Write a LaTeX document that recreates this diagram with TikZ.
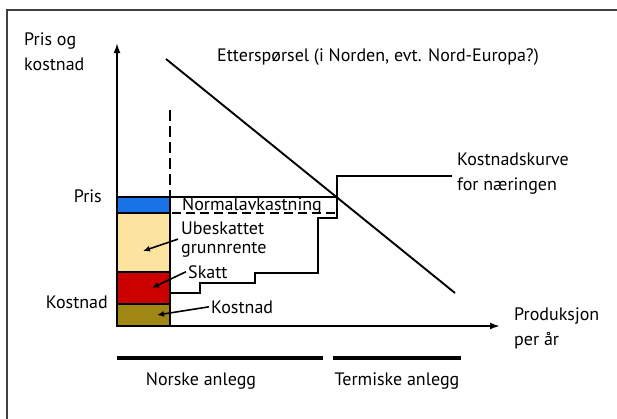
\documentclass[tikz,border=0pt]{standalone}
\usepackage{fontspec}
\setmainfont{PT Sans}
\usetikzlibrary{arrows.meta}
\definecolor{prisblaa}{RGB}{25,115,230}
\definecolor{rentegul}{RGB}{252,228,160}
\definecolor{skattrod}{RGB}{205,0,0}
\definecolor{kostoliven}{RGB}{160,135,20}
\tikzset{
  akse/.style={line width=2pt,-{Latex[length=10pt,width=7pt]}},
  kurve/.style={line width=1.9pt},
  blokk/.style={draw,line width=1.9pt},
  tekst/.style={inner sep=0pt,font=\fontsize{18}{21}\selectfont},
  pil/.style={line width=1.6pt,-{Latex[length=7pt,width=6pt]}},
}
\begin{document}
\begin{tikzpicture}[x=1pt,y=-1pt]
\useasboundingbox (0,0) rectangle (617,418);
\draw[line width=1.5pt,black!75] (7,430) -- (7,10) -- (630,10);
% blokkene
\filldraw[blokk,fill=kostoliven] (117,304) rectangle (170,326);
\filldraw[blokk,fill=skattrod] (117,272) rectangle (170,304);
\filldraw[blokk,fill=rentegul] (117,213) rectangle (170,272);
\filldraw[blokk,fill=prisblaa] (117,197) rectangle (170,213);
% akser
\draw[akse] (117,327) -- (117,43);
\draw[akse] (116,326) -- (500,326);
% pris og normalavkastning
\draw[kurve,dash pattern=on 11pt off 5pt] (170,110) -- (170,197);
\draw[kurve] (170,197) -- (337,197);
\draw[kurve,dash pattern=on 9pt off 5pt] (172,213) -- (337,213);
% kostnadskurve
\draw[kurve] (170,293) -- (200,293) -- (200,283) -- (255,283) -- (255,273)
  -- (318,273) -- (318,218) -- (337,218) -- (337,176) -- (452,176);
% etterspoersel
\draw[kurve] (166,59) -- (455,293);
% anlegg
\draw[line width=4pt] (117,358) -- (323,358);
\draw[line width=4pt] (333,358) -- (461,358);
% tekster
\node[tekst,anchor=base west,align=left] (yakse) at (24,70) {Pris og\\[4pt]kostnad};
\node[tekst,anchor=base west] (ettersp) at (217,61) {Etterspørsel (i Norden, evt. Nord-Europa?)};
\node[tekst,anchor=base west,align=left] (kurvetekst) at (457,190) {Kostnadskurve\\[4pt]for næringen};
\node[tekst,anchor=base east] (pris) at (102,202) {Pris};
\node[tekst,anchor=base east] (kostnad) at (108,308) {Kostnad};
\node[tekst,anchor=base west] (normal) at (182,210) {Normalavkastning};
\node[tekst,anchor=base west,align=left,font=\fontsize{18}{19}\selectfont] (ubesk) at (181,253) {Ubeskattet\\grunnrente};
\node[tekst,anchor=base west] (skatt) at (188,278) {Skatt};
\node[tekst,anchor=base west] (kost) at (211,313) {Kostnad};
\node[tekst,anchor=base west,align=left] (xakse) at (514,345) {Produksjon\\[4pt]per år};
\node[tekst,anchor=base] (norske) at (201,385) {Norske anlegg};
\node[tekst,anchor=base] (termiske) at (397,385) {Termiske anlegg};
% piler
\coordinate (gul) at (143,251);
\coordinate (rod) at (152,288);
\coordinate (oliven) at (157,315);
\draw[pil] ([xshift=-3pt]ubesk.west) -- (gul);
\draw[pil] ([xshift=-2pt]skatt.west) -- (rod);
\draw[pil] ([xshift=-2pt]kost.west) -- (oliven);
\end{tikzpicture}
\end{document}
